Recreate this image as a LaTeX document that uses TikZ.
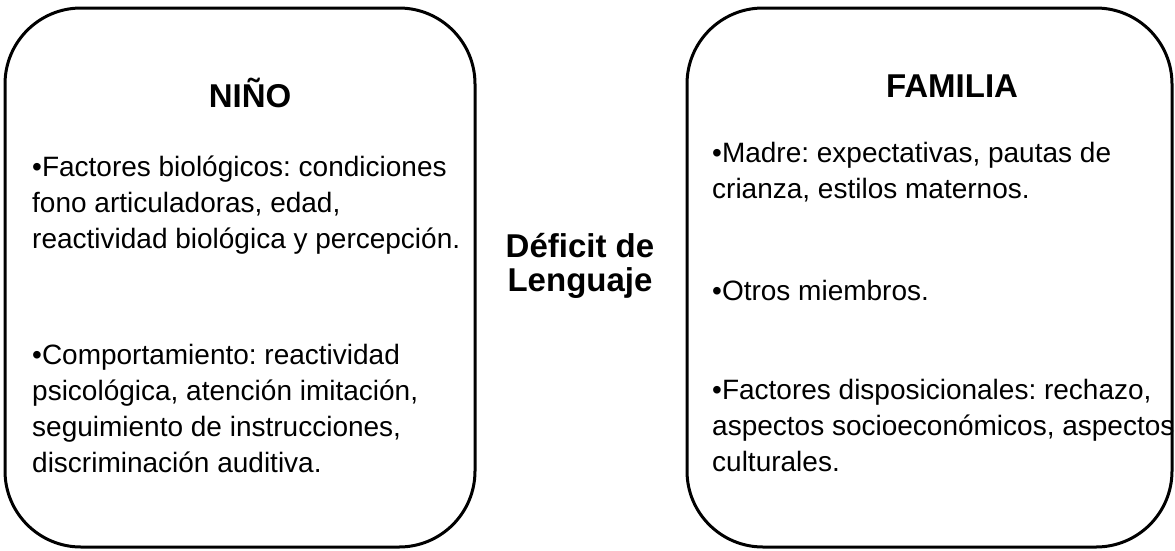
\documentclass[tikz,border=0pt]{standalone}
\usepackage{fontspec}
\setmainfont{Liberation Sans}
\usetikzlibrary{positioning}
\frenchspacing
\tikzset{
  caja/.style={draw=black, line width=3pt, rounded corners=76pt},
  titulo/.style={font=\fontsize{33}{34}\selectfont\bfseries, inner sep=0pt, anchor=base},
  texto/.style={font=\fontsize{28}{36}\selectfont, inner sep=0pt, anchor=base west, align=left}
}

\begin{document}
\begin{tikzpicture}[x=1pt,y=-1pt]
	\useasboundingbox (0,0) rectangle (1175,550);
	
	% cajas
	\draw[caja] (5,8) rectangle (475,547);
	\draw[caja] (687,8) rectangle (1172,547);
	
	% nino (base = ultima linea)
	\node[titulo] (nino) at (250,107) {NIÑO};
	\node[texto] (biologicos) at (32,248) {•Factores biológicos: condiciones\\fono articuladoras, edad,\\reactividad biológica y percepción.};
	\node[texto] (comportamiento) at (32,472) {•Comportamiento: reactividad\\psicológica, atención imitación,\\seguimiento de instrucciones,\\discriminación auditiva.};
	
	% centro
	\node[titulo, align=center] (deficit) at (580,291) {Déficit de\\Lenguaje};
	
	% familia
	\node[titulo] (familia) at (952,97) {FAMILIA};
	\node[texto] (madre) at (712,198) {•Madre: expectativas, pautas de\\crianza, estilos maternos.};
	\node[texto] (otros) at (712,300) {•Otros miembros.};
	\node[texto] (disposicionales) at (712,471) {•Factores disposicionales: rechazo,\\aspectos socioeconómicos, aspectos\\culturales.};
\end{tikzpicture}
\end{document}
